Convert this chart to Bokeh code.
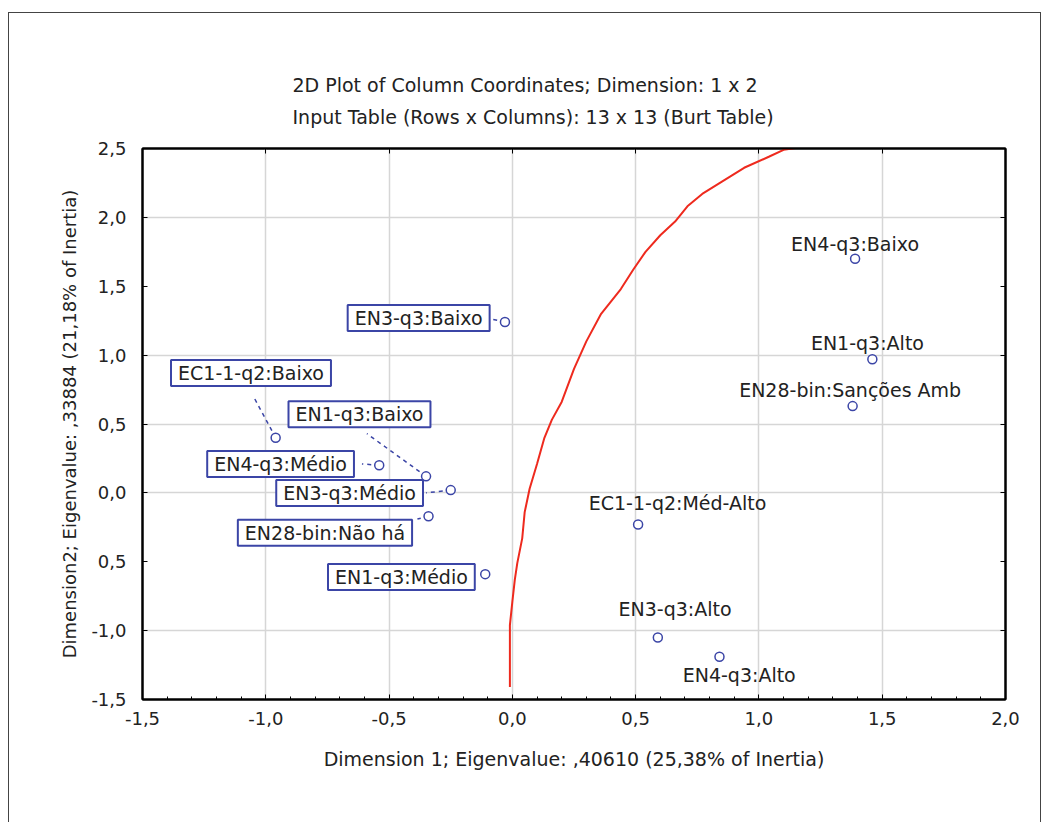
from bokeh.plotting import figure
from bokeh.models import Range1d, Label, FixedTicker, LinearAxis, Title
from bokeh.embed import file_html
from bokeh.resources import INLINE

# ---------------- data ----------------
names = [
    "EN3-q3:Baixo", "EC1-1-q2:Baixo", "EN4-q3:Médio", "EN1-q3:Baixo",
    "EN3-q3:Médio", "EN28-bin:Não há", "EN1-q3:Médio",
    "EN4-q3:Baixo", "EN1-q3:Alto", "EN28-bin:Sanções Amb",
    "EC1-1-q2:Méd-Alto", "EN3-q3:Alto", "EN4-q3:Alto",
]
dim1 = [-0.03, -0.96, -0.54, -0.35, -0.25, -0.34, -0.11,
        1.39, 1.46, 1.38, 0.51, 0.59, 0.84]
dim2 = [1.24, 0.40, 0.20, 0.12, 0.02, -0.17, -0.59,
        1.70, 0.97, 0.63, -0.23, -1.05, -1.19]

# red reference curve
curve_x = [-0.01, -0.01, 0.00, 0.01, 0.02, 0.04, 0.05, 0.07, 0.10, 0.13, 0.16,
           0.20, 0.25, 0.30, 0.36, 0.44, 0.49, 0.54, 0.60, 0.66, 0.71, 0.77,
           0.85, 0.94, 1.04, 1.10, 1.21, 1.35]
curve_y = [-1.41, -0.96, -0.79, -0.63, -0.51, -0.33, -0.14, 0.03, 0.21, 0.40, 0.53,
           0.66, 0.90, 1.10, 1.30, 1.48, 1.62, 1.75, 1.87, 1.97, 2.08, 2.17,
           2.26, 2.36, 2.44, 2.49, 2.52, 2.54]

x_ticks = [-1.5, -1.0, -0.5, 0.0, 0.5, 1.0, 1.5, 2.0]
x_tick_labels = ["-1,5", "-1,0", "-0,5", "0,0", "0,5", "1,0", "1,5", "2,0"]
y_ticks = [-1.5, -1.0, -0.5, 0.0, 0.5, 1.0, 1.5, 2.0, 2.5]
y_tick_labels = ["-1,5", "-1,0", "0,5", "0,0", "0,5", "1,0", "1,5", "2,0", "2,5"]

title1 = "2D Plot of Column Coordinates; Dimension:  1 x  2"
title2 = "Input Table (Rows x Columns): 13 x 13 (Burt Table)"
x_title = "Dimension 1; Eigenvalue: ,40610 (25,38% of Inertia)"
y_title = "Dimension2; Eigenvalue: ,33884 (21,18% of Inertia)"

# ---------------- layout (label placement, styles) ----------------
label_x = [-0.38, -1.06, -0.94, -0.62, -0.66, -0.76, -0.45,
           1.39, 1.44, 1.37, 0.67, 0.66, 0.92]
label_y = [1.27, 0.87, 0.21, 0.57, 0.00, -0.29, -0.61,
           1.81, 1.09, 0.75, -0.07, -0.84, -1.32]
label_boxed = [True] * 7 + [False] * 6
leader_x = [-0.08, -1.05, -0.61, -0.59, -0.35, -0.385, -0.13]
leader_y = [1.26, 0.70, 0.21, 0.43, 0.00, -0.19, -0.61]
xgrid_at = [-1.0, -0.5, 0.0, 0.5, 1.0, 1.5]
ygrid_at = [-1.0, 0.0, 0.5, 1.0, 2.0]

BLUE = "#3b45a6"
TXT = "#222222"
FONT = "DejaVu Sans"

p = figure(
    width=1033, height=810,
    x_range=Range1d(-1.5, 2.0), y_range=Range1d(-1.5, 2.5),
    output_backend="svg", toolbar_location=None,
    min_border_left=133, min_border_right=37,
    min_border_top=135, min_border_bottom=124,
    x_axis_location=None, y_axis_location=None,
    background_fill_color="white", border_fill_color="white",
    outline_line_color="black", outline_line_width=2,
    styles={"border-top": "1.5px solid #444", "border-left": "1.5px solid #444",
            "border-right": "1.5px solid #444",
            "margin-top": "12px", "margin-left": "8px"},
)

def style_axis(ax, ticks, labels, show_labels, minor):
    ax.ticker = FixedTicker(ticks=ticks, minor_ticks=minor)
    ax.major_label_overrides = {t: l for t, l in zip(ticks, labels)}
    ax.axis_line_color = "black"
    ax.axis_line_width = 2
    ax.major_tick_in = 5
    ax.major_tick_out = 0
    ax.minor_tick_in = 3
    ax.minor_tick_out = 0
    ax.major_tick_line_color = "black"
    ax.minor_tick_line_color = "black"
    ax.major_label_text_font = FONT
    ax.major_label_text_font_size = "18px"
    ax.major_label_text_color = TXT if show_labels else None
    ax.axis_label_text_font = FONT
    ax.axis_label_text_font_size = "19px"
    ax.axis_label_text_font_style = "normal"
    ax.axis_label_text_color = TXT

minor_x = [round(-1.5 + 0.1 * i, 2) for i in range(36)]

xb = LinearAxis(axis_label=x_title)
style_axis(xb, x_ticks, x_tick_labels, True, minor_x)
xb.major_label_standoff = 12
xb.axis_label_standoff = 20
p.add_layout(xb, "below")

xt = LinearAxis()
style_axis(xt, x_ticks, x_tick_labels, False, [])
xt.major_label_text_font_size = "0px"
xt.major_label_standoff = 0
p.add_layout(xt, "above")

yl = LinearAxis(axis_label=y_title)
style_axis(yl, y_ticks, y_tick_labels, True, [])
yl.axis_label_text_font_size = "18px"
yl.major_label_standoff = 16
yl.axis_label_standoff = 8
yl.major_label_orientation = "horizontal"
p.add_layout(yl, "left")

yr = LinearAxis()
style_axis(yr, y_ticks, y_tick_labels, False, [])
yr.major_label_text_font_size = "0px"
p.add_layout(yr, "right")

p.xgrid.ticker = FixedTicker(ticks=xgrid_at)
p.ygrid.ticker = FixedTicker(ticks=ygrid_at)
p.xgrid.grid_line_color = "#d6d6d6"
p.ygrid.grid_line_color = "#d6d6d6"
p.xgrid.grid_line_width = 1.5
p.ygrid.grid_line_width = 1.5

# red curve
p.line(curve_x, curve_y, line_color="#ee2a1e", line_width=2)

# leader lines for boxed labels
n_box = sum(label_boxed)
p.segment(x0=dim1[:n_box], y0=dim2[:n_box], x1=leader_x, y1=leader_y,
          line_color=BLUE, line_width=1.5, line_dash="4 4")

# markers
p.scatter(dim1, dim2, marker="circle", size=9, fill_color="white",
          line_color=BLUE, line_width=1.5)

# point labels
for name, lx, ly, boxed in zip(names, label_x, label_y, label_boxed):
    kw = dict(x=lx, y=ly, text=name, text_align="center", text_baseline="middle",
              text_font=FONT, text_font_size="19px", text_color=TXT)
    if boxed:
        kw.update(background_fill_color="white", border_line_color=BLUE,
                  border_line_width=2,
                  padding=dict(left=7, right=7, top=2, bottom=2))
    p.add_layout(Label(**kw))

# titles (stacked above the frame, with a small spacer)
spacer = Title(text=" ", text_font_size="4px", standoff=10)
t2 = Title(text=title2, align="left", offset=150, standoff=8,
           text_font=FONT, text_font_size="19px", text_font_style="normal",
           text_color=TXT)
t1 = Title(text=title1, align="left", offset=150, standoff=8,
           text_font=FONT, text_font_size="19px", text_font_style="normal",
           text_color=TXT)
p.add_layout(spacer, "above")
p.add_layout(t2, "above")
p.add_layout(t1, "above")

open("out.html", "w").write(file_html(p, INLINE))
